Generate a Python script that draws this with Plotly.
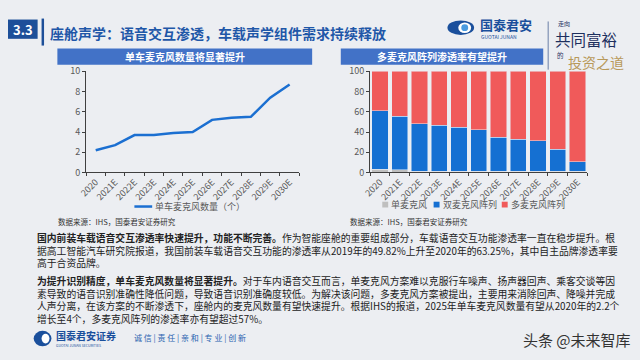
import plotly.graph_objects as go

# ---------------- data ----------------
years = ["2020", "2021E", "2022E", "2023E", "2024E", "2025E",
         "2026E", "2027E", "2028E", "2029E", "2030E"]
mic_per_car = [2.2, 2.7, 3.7, 3.7, 3.9, 4.0, 5.2, 5.4, 5.5, 7.4, 8.7]
single_mic = [3.0, 2.5, 1.0, 1.0, 1.0, 1.0, 1.0, 1.0, 1.0, 1.0, 1.0]
dual_mic = [58.0, 53.0, 47.0, 45.7, 43.8, 41.2, 33.6, 32.0, 30.4, 21.9, 9.8]
multi_mic = [39.0, 44.5, 52.0, 53.3, 55.2, 57.8, 65.4, 67.0, 68.6, 77.1, 89.2]

left_ticks = [0, 2, 4, 6, 8, 10]
right_ticks = [0, 20, 40, 60, 80, 100]

FONT = "Noto Sans CJK SC"
W, H = 640, 360


def px(x):
    return x / W


def py(y):
    return 1 - y / H


BLUE_LINE = "#1b6fd1"
BAR_BLUE = "#1570d2"
BAR_RED = "#f05a5a"
BAR_GRAY = "#bfbfbf"
BANNER = "#4272c7"
DARK = "#1d4f99"
AXIS_TXT = "#595959"

fig = go.Figure()

fig.add_trace(go.Scatter(
    x=years, y=mic_per_car, mode="lines", name="单车麦克风数量（个）",
    line=dict(color=BLUE_LINE, width=2.5), xaxis="x", yaxis="y", showlegend=False))

fig.add_trace(go.Bar(x=years, y=single_mic, name="单麦克风", marker_color=BAR_GRAY,
                     xaxis="x2", yaxis="y2", showlegend=False))
fig.add_trace(go.Bar(x=years, y=dual_mic, name="双麦克风阵列", marker_color=BAR_BLUE,
                     xaxis="x2", yaxis="y2", showlegend=False))
fig.add_trace(go.Bar(x=years, y=multi_mic, name="多麦克风阵列", marker_color=BAR_RED,
                     xaxis="x2", yaxis="y2", showlegend=False))

axis_common = dict(showgrid=False, zeroline=False, showline=True, linecolor="#404040",
                   linewidth=1, ticks="outside", ticklen=3, tickcolor="#404040",
                   tickfont=dict(family=FONT, size=9, color=AXIS_TXT))

fig.update_layout(
    width=W, height=H,
    margin=dict(l=0, r=0, t=0, b=0),
    paper_bgcolor="#eceef2",
    plot_bgcolor="rgba(0,0,0,0)",
    barmode="stack",
    bargap=0.17,
    font=dict(family=FONT, color="#222222"),
    xaxis=dict(domain=[px(79), px(295)], anchor="y", type="category",
               tickson="boundaries", range=[-0.5, 10.5], tickangle=-45,
               **axis_common),
    yaxis=dict(domain=[py(171.7), py(66.7)], anchor="x", range=[0, 10],
               tickvals=left_ticks, **axis_common),
    xaxis2=dict(domain=[px(366.7), px(586.7)], anchor="y2", type="category",
                tickson="boundaries", range=[-0.5, 10.5], tickangle=-45,
                **axis_common),
    yaxis2=dict(domain=[py(171.7), py(66.7)], anchor="x2", range=[0, 100],
                tickvals=right_ticks, ticksuffix="%", **axis_common),
)

shapes = []


def rect(x0, y0, x1, y1, color):
    shapes.append(dict(type="rect", xref="paper", yref="paper", x0=px(x0), x1=px(x1),
                       y0=py(y1), y1=py(y0), fillcolor=color, line_width=0))


def circle(x0, y0, x1, y1, color):
    shapes.append(dict(type="circle", xref="paper", yref="paper", x0=px(x0), x1=px(x1),
                       y0=py(y1), y1=py(y0), fillcolor=color, line_width=0))


# section number box and divider
rect(0, 13, 30, 33, DARK)
rect(34, 12, 36.5, 40, DARK)
# chart banners
rect(50, 43, 308, 60, BANNER)
rect(337, 43, 542, 60, BANNER)
# header divider near logo
shapes.append(dict(type="line", xref="paper", yref="paper", x0=px(547), x1=px(547),
                   y0=py(65), y1=py(15), line=dict(color="#6a7fa6", width=1)))
# logo circle (top)
circle(445, 14, 472, 29, "#1a4f9c")
circle(456, 16, 469, 27, "#ffffff")
circle(459, 18, 466, 25, "#4a9be0")
# footer logo circle
circle(26, 336, 44, 352, "#1a4f9c")
circle(34, 339, 42, 349, "#ffffff")

# legend markers
shapes.append(dict(type="line", xref="paper", yref="paper", x0=px(128), x1=px(146),
                   y0=py(207), y1=py(207), line=dict(color=BLUE_LINE, width=2.5)))
rect(379, 202, 385, 208, BAR_GRAY)
rect(431, 202, 437, 208, BAR_BLUE)
rect(500, 202, 506, 208, BAR_RED)
fig.update_layout(shapes=shapes)

ann = []


def text(x, y, s, size, color="#222222", anchor="left", bold=False, family=FONT, yanchor="middle"):
    if bold:
        s = "<b>" + s + "</b>"
    ann.append(dict(xref="paper", yref="paper", x=px(x), y=py(y), text=s, showarrow=False,
                    xanchor=anchor, yanchor=yanchor, align="left", borderpad=0,
                    font=dict(family=family, size=size, color=color)))


text(15, 23.5, "3.3", 13, "#ffffff", "center", True)
text(42, 27, "座舱声学：语音交互渗透，车载声学组件需求持续释放", 14, "#1f57a8", bold=True)
text(179, 51.5, "单车麦克风数量将显著提升", 10, "#ffffff", "center", True)
text(439.5, 51.5, "多麦克风阵列渗透率有望提升", 10, "#ffffff", "center", True)

# logo text
text(477, 18.5, "国泰君安", 13, "#1a4f9c", bold=True)
text(478, 31, "GUOTAI JUNAN", 5, "#1a4f9c")
# calligraphy
text(556, 17, "走向", 6, "#1d2f5e")
text(553, 33, "共同富裕", 15.5, "#1d2f5e")
text(555, 50, "的", 6.5, "#1d2f5e")
text(566, 57, "投资之道", 14, "#b8995a")

# legends
text(148, 207, "单车麦克风数量（个）", 9, AXIS_TXT)
text(387, 205, "单麦克风", 9, AXIS_TXT)
text(439, 205, "双麦克风阵列", 9, AXIS_TXT)
text(508, 205, "多麦克风阵列", 9, AXIS_TXT)

# sources
text(50, 223, "数据来源：IHS，国泰君安证券研究", 7.5, "#333333")
text(345, 223, "数据来源：IHS，国泰君安证券研究", 7.5, "#333333")

# paragraphs
p1 = ("<b>国内前装车载语音交互渗透率快速提升，功能不断完善。</b>作为智能座舱的重要组成部分，车载语音交互功能渗透率一直在稳步提升。根<br>"
      "据高工智能汽车研究院报道，我国前装车载语音交互功能的渗透率从2019年的49.82%上升至2020年的63.25%，其中自主品牌渗透率要<br>"
      "高于合资品牌。")
p2 = ("<b>为提升识别精度，单车麦克风数量将显著提升。</b>对于车内语音交互而言，单麦克风方案难以克服行车噪声、扬声器回声、乘客交谈等因<br>"
      "素导致的语音识别准确性降低问题，导致语音识别准确度较低。为解决该问题，多麦克风方案被提出，主要用来消除回声、降噪并完成<br>"
      "人声分离，在该方案的不断渗透下，座舱内的麦克风数量有望快速提升。根据IHS的报道，2025年单车麦克风数量有望从2020年的2.2个<br>"
      "增长至4个，多麦克风阵列的渗透率亦有望超过57%。")
text(28, 231, p1, 9.8, "#222222", yanchor="top")
text(28, 276, p2, 9.8, "#222222", yanchor="top")

# footer
text(48, 341, "国泰君安证券", 10, "#1a4f9c", bold=True)
text(48, 351.5, "GUOTAI JUNAN SECURITIES", 3.5, "#1a4f9c")
text(127, 343, "诚 信 | 责 任 | 亲 和 | 专 业 | 创 新", 8, "#2a63b0")
text(520, 345, "头条 @未来智库", 15, "#333333")

fig.update_layout(annotations=ann)

fig.write_html("out.html", config={"displayModeBar": False},
               post_script="document.body.style.margin='0px';")
